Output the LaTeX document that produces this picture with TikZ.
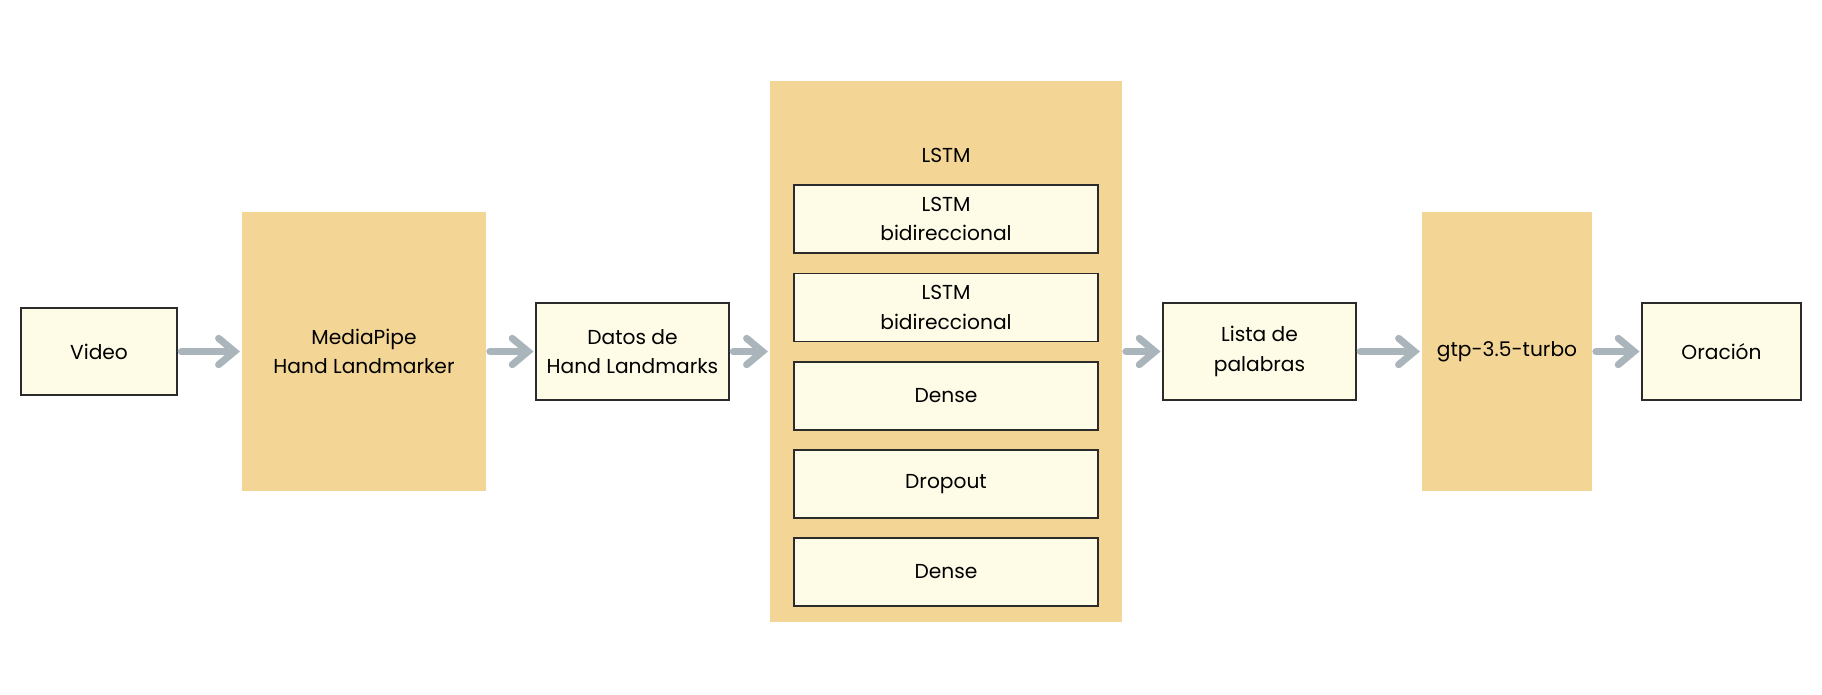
\documentclass[tikz,border=0pt]{standalone}
\usepackage{fontspec}
\setmainfont{Poppins}
\usetikzlibrary{arrows.meta}
\definecolor{capa}{HTML}{F3D595}
\definecolor{caja}{HTML}{FEFBE6}
\definecolor{borde}{HTML}{2B2B2B}
\definecolor{flecha}{HTML}{A9B4BB}
\tikzstyle{node_modelo} = [rectangle, fill=capa, inner sep=0pt, align=center, font=\fontsize{11.5}{16.6}\selectfont]
\tikzstyle{node_dato} = [rectangle, draw=borde, line width=0.85pt, fill=caja, inner sep=0pt, align=center, font=\fontsize{11.5}{16.6}\selectfont]
\tikzstyle{edge_flujo} = [draw=flecha, line width=4pt, line cap=round, shorten <=2pt, shorten >=1pt, -{Straight Barb[length=9pt, width=15pt, line cap=round]}]

\begin{document}
\begin{tikzpicture}[x=0.02cm, y=-0.02cm]
\useasboundingbox (0,0) rectangle (1822,694);
\node (V) at (99,351.5) [node_dato, minimum width=3.12cm, minimum height=1.74cm] {Video};
\node (M) at (364,351.5) [node_modelo, minimum width=4.88cm, minimum height=5.58cm] {MediaPipe\\Hand Landmarker};
\node (D) at (632.5,351.5) [node_dato, minimum width=3.86cm, minimum height=1.94cm] {Datos de\\Hand Landmarks};
\node (L) at (946,351.5) [node_modelo, minimum width=7.04cm, minimum height=10.82cm] {};
\node (LT) at (946,155) [font=\fontsize{11.5}{16.6}\selectfont] {LSTM};
\node (L1) at (946,219) [node_dato, minimum width=6.08cm, minimum height=1.36cm] {LSTM\\bidireccional};
\node (L2) at (946,307.5) [node_dato, minimum width=6.08cm, minimum height=1.36cm] {LSTM\\bidireccional};
\node (L3) at (946,396) [node_dato, minimum width=6.08cm, minimum height=1.36cm] {Dense};
\node (L4) at (946,484) [node_dato, minimum width=6.08cm, minimum height=1.36cm] {Dropout};
\node (L5) at (946,572) [node_dato, minimum width=6.08cm, minimum height=1.36cm] {Dense};
\node (P) at (1259.5,351.5) [node_dato, minimum width=3.86cm, minimum height=1.94cm] {Lista de\\palabras};
\node (G) at (1507,351.5) [node_modelo, minimum width=3.40cm, minimum height=5.58cm] {gtp-3.5-turbo};
\node (O) at (1721.5,351.5) [node_dato, minimum width=3.18cm, minimum height=1.94cm] {Oración};

\draw[edge_flujo] (V)--(M);
\draw[edge_flujo] (M)--(D);
\draw[edge_flujo] (D)--(L);
\draw[edge_flujo] (L)--(P);
\draw[edge_flujo] (P)--(G);
\draw[edge_flujo] (G)--(O);
\end{tikzpicture}
\end{document}
